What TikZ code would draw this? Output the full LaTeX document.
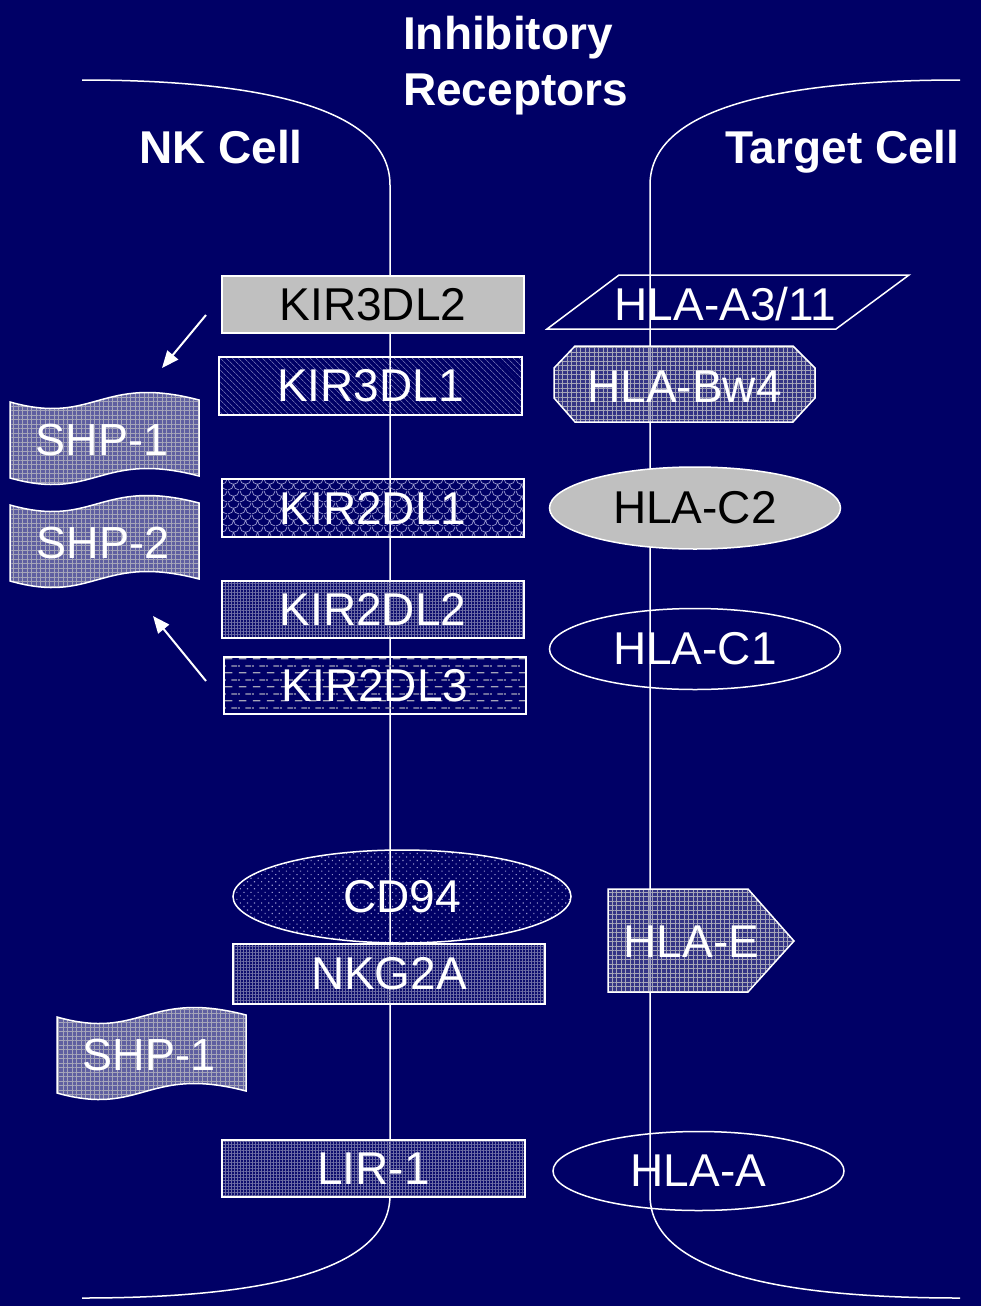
\documentclass[tikz,border=0pt]{standalone}
\usepackage{fontspec}
\setmainfont{Liberation Sans}
\usetikzlibrary{shapes.geometric,arrows.meta,patterns,patterns.meta}
\definecolor{bg}{RGB}{0,0,102}
\definecolor{lgray}{RGB}{192,192,192}
\definecolor{patc}{RGB}{150,150,205}
\definecolor{gridc}{RGB}{165,165,185}
\definecolor{midc}{RGB}{95,95,160}
\definecolor{finec}{RGB}{110,110,165}

\pgfdeclarepatternformonly{fishscales}{\pgfqpoint{0pt}{0pt}}{\pgfqpoint{12pt}{12pt}}{\pgfqpoint{12pt}{12pt}}{%
  \pgfsetlinewidth{0.8pt}%
  \pgfpathmoveto{\pgfqpoint{0pt}{12pt}}%
  \pgfpathcurveto{\pgfqpoint{0pt}{8.7pt}}{\pgfqpoint{2.7pt}{6pt}}{\pgfqpoint{6pt}{6pt}}%
  \pgfpathcurveto{\pgfqpoint{9.3pt}{6pt}}{\pgfqpoint{12pt}{8.7pt}}{\pgfqpoint{12pt}{12pt}}%
  \pgfpathmoveto{\pgfqpoint{0pt}{0pt}}%
  \pgfpathcurveto{\pgfqpoint{3.3pt}{0pt}}{\pgfqpoint{6pt}{2.7pt}}{\pgfqpoint{6pt}{6pt}}%
  \pgfpathcurveto{\pgfqpoint{6pt}{2.7pt}}{\pgfqpoint{8.7pt}{0pt}}{\pgfqpoint{12pt}{0pt}}%
  \pgfusepath{stroke}}

\pgfdeclarepatternformonly{dashrows}{\pgfqpoint{0pt}{0pt}}{\pgfqpoint{14pt}{14pt}}{\pgfqpoint{14pt}{14pt}}{%
  \pgfsetlinewidth{1.3pt}%
  \pgfpathmoveto{\pgfqpoint{1pt}{3.5pt}}\pgfpathlineto{\pgfqpoint{9pt}{3.5pt}}%
  \pgfpathmoveto{\pgfqpoint{8pt}{10.5pt}}\pgfpathlineto{\pgfqpoint{14pt}{10.5pt}}%
  \pgfpathmoveto{\pgfqpoint{0pt}{10.5pt}}\pgfpathlineto{\pgfqpoint{2pt}{10.5pt}}%
  \pgfusepath{stroke}}

\tikzset{
  txt/.style={font=\fontsize{46}{50}\selectfont},
  lab/.style={txt, text=white, inner sep=0pt},
  titletxt/.style={font=\fontsize{46}{50}\selectfont\bfseries, text=white, inner sep=0pt, anchor=base west},
  rbox/.style={rectangle, draw=white, line width=1.5pt, inner sep=0pt,
    minimum width=302pt, minimum height=57pt, text=white, txt},
  ell/.style={ellipse, draw=white, line width=1.5pt, inner sep=0pt,
    minimum width=291pt, minimum height=82pt, text=white, txt},
  shapeline/.style={draw=white, line width=1.5pt},
  membrane/.style={draw=white, line width=1.5pt},
  arr/.style={draw=white, line width=2pt, -{Triangle[length=17pt,width=14pt]}},
  diagfill/.style={pattern={Lines[angle=-45,distance=4pt,line width=0.6pt]}, pattern color=patc},
  scalefill/.style={pattern=fishscales, pattern color=patc},
  finegrid/.style={preaction={fill=finec, fill opacity=0.12},
    pattern={Hatch[angle=0,distance=3pt,line width=0.45pt]}, pattern color=finec},
  dashfill/.style={pattern=dashrows, pattern color=gridc},
  dotsfill/.style={pattern={Dots[angle=45,distance=5pt,radius=0.8pt]}, pattern color=patc},
  gridfill/.style={preaction={fill=midc, fill opacity=0.55},
    pattern={Hatch[angle=0,distance=4.5pt,line width=0.6pt]}, pattern color=gridc},
  shpfill/.style={preaction={fill=midc},
    pattern={Hatch[angle=0,distance=4.5pt,line width=0.6pt]}, pattern color=gridc},
  shpwave/.pic={
    \draw[shapeline, shpfill] (10,402) .. controls (95,426) and (100,374) .. (199,400)
      -- (199,476) .. controls (100,450) and (95,502) .. (10,478) -- cycle;
  }
}

\begin{document}
\begin{tikzpicture}[x=1pt,y=-1pt]
\fill[bg] (0,0) rectangle (981,1306);
\useasboundingbox (0,0) rectangle (981,1306);

% membranes
\draw[membrane] (82,80) .. controls (250,80) and (390,105) .. (390,185)
  -- (390,1195) .. controls (390,1275) and (250,1298) .. (82,1298);
\draw[membrane] (960,80) .. controls (790,80) and (650,105) .. (650,185)
  -- (650,1195) .. controls (650,1275) and (790,1298) .. (960,1298);

% titles
\node[titletxt] (t1) at (403,49) {Inhibitory};
\node[titletxt] (t2) at (403,105) {Receptors};
\node[titletxt] (nk) at (139,163) {NK Cell};
\node[titletxt] (tc) at (725,163) {Target Cell};

% NK cell receptors
\node[rbox, fill=lgray, text=black] (kir3dl2) at (373,304.5) {KIR3DL2};
\node[rbox, diagfill, minimum width=303pt, minimum height=58pt] (kir3dl1) at (370.5,386) {KIR3DL1};
\node[rbox, scalefill, minimum height=58pt] (kir2dl1) at (373,508) {KIR2DL1};
\node[rbox, finegrid] (kir2dl2) at (373,609.5) {KIR2DL2};
\node[rbox, dashfill] (kir2dl3) at (375,685.5) {KIR2DL3};
\node[ell, dotsfill, minimum width=338pt, minimum height=93pt] (cd94) at (402,896.5) {CD94};
\node[rbox, finegrid, minimum width=312pt, minimum height=60pt] (nkg2a) at (389,974) {NKG2A};
\node[rbox, finegrid, minimum width=303pt] (lir1) at (373.5,1168.5) {LIR-1};

% target cell ligands
\draw[shapeline] (547,329) -- (619,275) -- (909,275) -- (836,329) -- cycle;
\node[lab] (hlaa311) at (725.5,304) {HLA-A3/11};
\draw[shapeline, gridfill] (554,368) -- (575,346) -- (793,346) -- (815,368)
  -- (815,398) -- (793,422) -- (575,422) -- (554,398) -- cycle;
\node[lab] (hlabw4) at (684.5,387) {HLA-Bw4};
\node[ell, fill=lgray, text=black] (hlac2) at (695,508) {HLA-C2};
\node[ell, minimum height=81pt] (hlac1) at (695,649) {HLA-C1};
\draw[shapeline, gridfill] (608,889) -- (748,889) -- (794,941) -- (748,992) -- (608,992) -- cycle;
\node[lab] (hlae) at (691.5,941.5) {HLA-E};
\node[ell, minimum height=79pt] (hlaa) at (698.5,1171) {HLA-A};

% SHP phosphatases
\pic at (0,0) {shpwave};
\pic at (0,103) {shpwave};
\pic at (47,615) {shpwave};
\node[lab, font=\fontsize{45}{50}\selectfont] (shp1) at (102,440) {SHP-1};
\node[lab, font=\fontsize{45}{50}\selectfont] (shp2) at (103,543) {SHP-2};
\node[lab, font=\fontsize{45}{50}\selectfont] (shp1b) at (149,1055) {SHP-1};

% arrows
\coordinate (a1s) at (206,315);
\coordinate (a1e) at (162,368);
\draw[arr] (a1s) -- (a1e);
\coordinate (a2s) at (206,681);
\coordinate (a2e) at (153,616);
\draw[arr] (a2s) -- (a2e);
\end{tikzpicture}
\end{document}
